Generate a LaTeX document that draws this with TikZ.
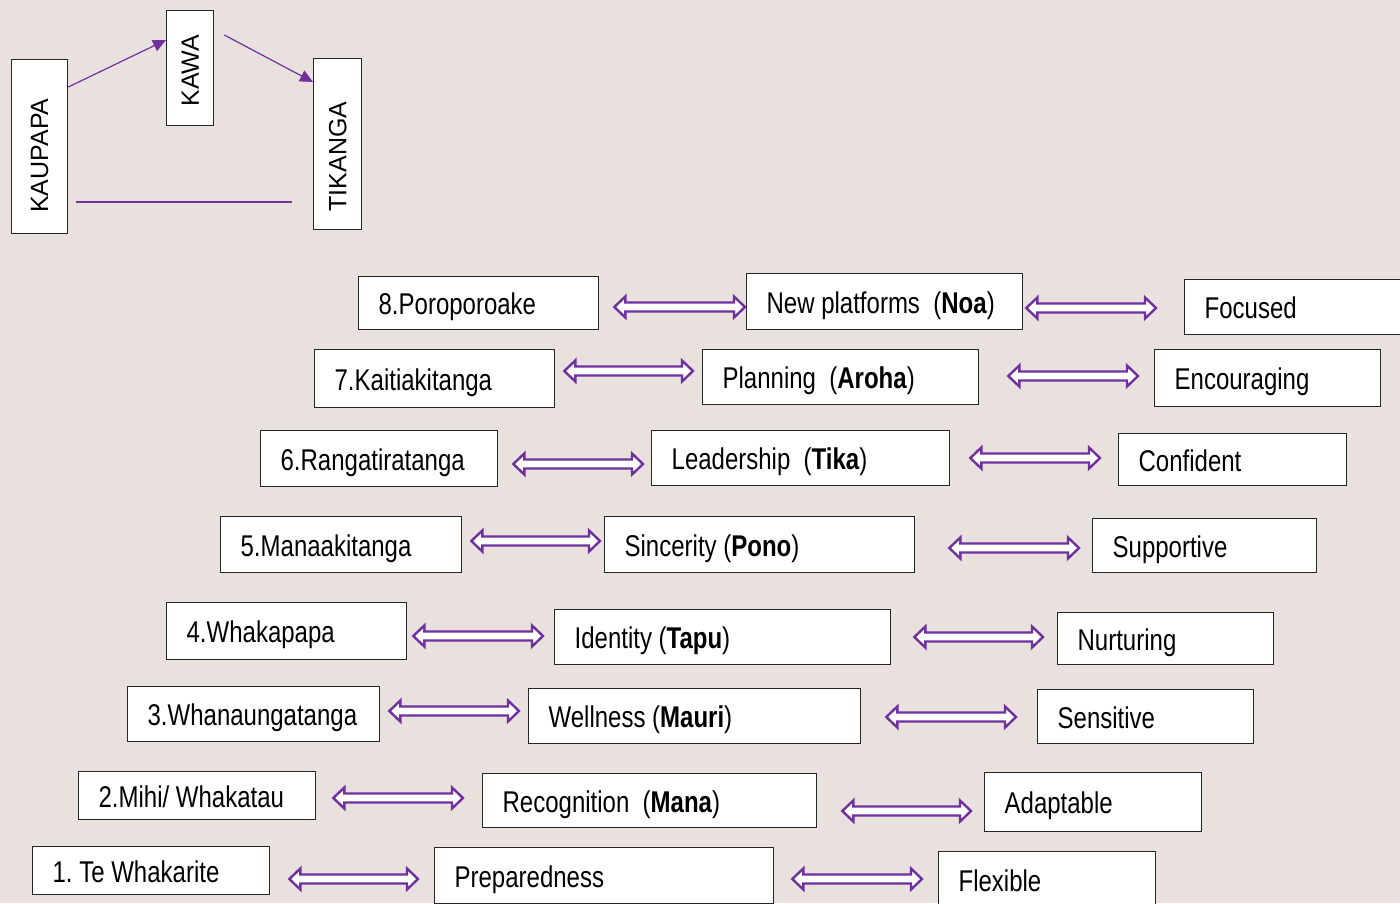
\documentclass[tikz,border=0pt]{standalone}
\usepackage{fontspec}
\setmainfont[FakeStretch=0.8]{Liberation Sans}
\newfontfamily\widefont{Liberation Sans}
\usetikzlibrary{arrows.meta,calc}

\definecolor{lilac}{RGB}{112,48,160}
\definecolor{paper}{RGB}{232,225,221}

\tikzset{
  box/.style={draw=black!85, line width=1.3pt, fill=white, anchor=north west,
    inner xsep=20pt, inner ysep=0pt, align=flush left, text height=23pt, text depth=0pt,
    font=\fontsize{30}{36}\selectfont},
  tall/.style={draw=black!85, line width=1.3pt, fill=white, anchor=north west,
    inner sep=0pt, font=\widefont\fontsize{25}{30}\selectfont},
  dbl/.style={draw=lilac, fill=white, line width=2.4pt, line join=miter,
    to path={let \p1=(\tikztostart), \p2=(\tikztotarget) in
      (\p1) -- (\x1+11pt,\y1+10.5pt) -- (\x1+11pt,\y1+4.5pt) -- (\x2-11pt,\y1+4.5pt)
      -- (\x2-11pt,\y1+10.5pt) -- (\x2,\y1) -- (\x2-11pt,\y1-10.5pt) -- (\x2-11pt,\y1-4.5pt)
      -- (\x1+11pt,\y1-4.5pt) -- (\x1+11pt,\y1-10.5pt) -- cycle}},
  flow/.style={draw=lilac, line width=1.2pt, -{Triangle[length=13pt,width=12pt]}}
}

\begin{document}
\begin{tikzpicture}[x=1pt,y=-1pt]
\useasboundingbox (0,0) rectangle (1400,903);
\clip (0,0) rectangle (1400,903);
\fill[paper] (0,0) rectangle (1400,903); %background

% kaupapa -> kawa -> tikanga
\node[tall, minimum width=56, minimum height=174] (kaupapa) at (11,59) {\rotatebox{90}{KAUPAPA\hspace{18pt}}};
\node[tall, minimum width=47, minimum height=115] (kawa) at (166,10) {\rotatebox{90}{KAWA\hspace{5pt}}};
\node[tall, minimum width=48, minimum height=171] (tikanga) at (313,58) {\rotatebox{90}{TIKANGA\hspace{25pt}}};

\draw[flow] ([yshift=-28pt]kaupapa.north east) -- ([yshift=-30pt]kawa.north west);
\draw[flow] ([xshift=10pt,yshift=-25pt]kawa.north east) -- ([yshift=-24pt]tikanga.north west);
\draw[lilac, line width=1.2pt] ([xshift=8pt]kaupapa.east |- 0,202) -- ([xshift=-21pt]tikanga.west |- 0,202);

% row 8
\node[box, text width=200, minimum height=53] (p8) at (358,276) {8.Poroporoake};
\node[box, text width=236, minimum height=56] (n8) at (746,273) {New platforms\ \ (\textbf{Noa})};
\node[box, text width=220, minimum height=55] (f8) at (1184,279) {Focused};
\draw[dbl] ([xshift=15pt]p8.east |- 0,307) to ([xshift=-1pt]n8.west |- 0,307);
\draw[dbl] ([xshift=3pt]n8.east |- 0,308) to ([xshift=-28pt]f8.west |- 0,308);

% row 7
\node[box, text width=200, minimum height=58] (p7) at (314,349) {7.Kaitiakitanga};
\node[box, text width=236, minimum height=55] (n7) at (702,349) {Planning\ \ (\textbf{Aroha})};
\node[box, text width=186, minimum height=57] (f7) at (1154,349) {Encouraging};
\draw[dbl] ([xshift=9pt]p7.east |- 0,371) to ([xshift=-9pt]n7.west |- 0,371);
\draw[dbl] ([xshift=29pt]n7.east |- 0,376) to ([xshift=-16pt]f7.west |- 0,376);

% row 6
\node[box, text width=197, minimum height=56] (p6) at (260,430) {6.Rangatiratanga};
\node[box, text width=258, minimum height=55] (n6) at (651,430) {Leadership\ \ (\textbf{Tika})};
\node[box, text width=188, minimum height=52] (f6) at (1118,433) {Confident};
\draw[dbl] ([xshift=15pt]p6.east |- 0,464) to ([xshift=-8pt]n6.west |- 0,464);
\draw[dbl] ([xshift=20pt]n6.east |- 0,458) to ([xshift=-18pt]f6.west |- 0,458);

% row 5
\node[box, text width=201, minimum height=56] (p5) at (220,516) {5.Manaakitanga};
\node[box, text width=270, minimum height=56] (n5) at (604,516) {Sincerity (\textbf{Pono})};
\node[box, text width=184, minimum height=54] (f5) at (1092,518) {Supportive};
\draw[dbl] ([xshift=9pt]p5.east |- 0,541) to ([xshift=-4pt]n5.west |- 0,541);
\draw[dbl] ([xshift=34pt]n5.east |- 0,548) to ([xshift=-13pt]f5.west |- 0,548);

% row 4
\node[box, text width=200, minimum height=57] (p4) at (166,602) {4.Whakapapa};
\node[box, text width=296, minimum height=55] (n4) at (554,609) {Identity (\textbf{Tapu})};
\node[box, text width=176, minimum height=52] (f4) at (1057,612) {Nurturing};
\draw[dbl] ([xshift=6pt]p4.east |- 0,636) to ([xshift=-11pt]n4.west |- 0,636);
\draw[dbl] ([xshift=23pt]n4.east |- 0,637) to ([xshift=-14pt]f4.west |- 0,637);

% row 3
\node[box, text width=212, minimum height=55] (p3) at (127,686) {3.Whanaungatanga};
\node[box, text width=292, minimum height=55] (n3) at (528,688) {Wellness (\textbf{Mauri})};
\node[box, text width=176, minimum height=54] (f3) at (1037,689) {Sensitive};
\draw[dbl] ([xshift=9pt]p3.east |- 0,711) to ([xshift=-9pt]n3.west |- 0,711);
\draw[dbl] ([xshift=25pt]n3.east |- 0,717) to ([xshift=-21pt]f3.west |- 0,717);

% row 2
\node[box, text width=197, minimum height=48] (p2) at (78,771) {2.Mihi/ Whakatau};
\node[box, text width=294, minimum height=54] (n2) at (482,773) {Recognition\ \ (\textbf{Mana})};
\node[box, text width=177, minimum height=59] (f2) at (984,772) {Adaptable};
\draw[dbl] ([xshift=17pt]p2.east |- 0,798) to ([xshift=-19pt]n2.west |- 0,798);
\draw[dbl] ([xshift=25pt]n2.east |- 0,811) to ([xshift=-13pt]f2.west |- 0,811);

% row 1
\node[box, text width=197, minimum height=48] (p1) at (32,846) {1.\ Te Whakarite};
\node[box, text width=299, minimum height=56] (n1) at (434,847) {Preparedness};
\node[box, text width=177, minimum height=56] (f1) at (938,851) {Flexible};
\draw[dbl] ([xshift=19pt]p1.east |- 0,879) to ([xshift=-16pt]n1.west |- 0,879);
\draw[dbl] ([xshift=18pt]n1.east |- 0,879) to ([xshift=-16pt]f1.west |- 0,879);

\end{tikzpicture}
\end{document}
